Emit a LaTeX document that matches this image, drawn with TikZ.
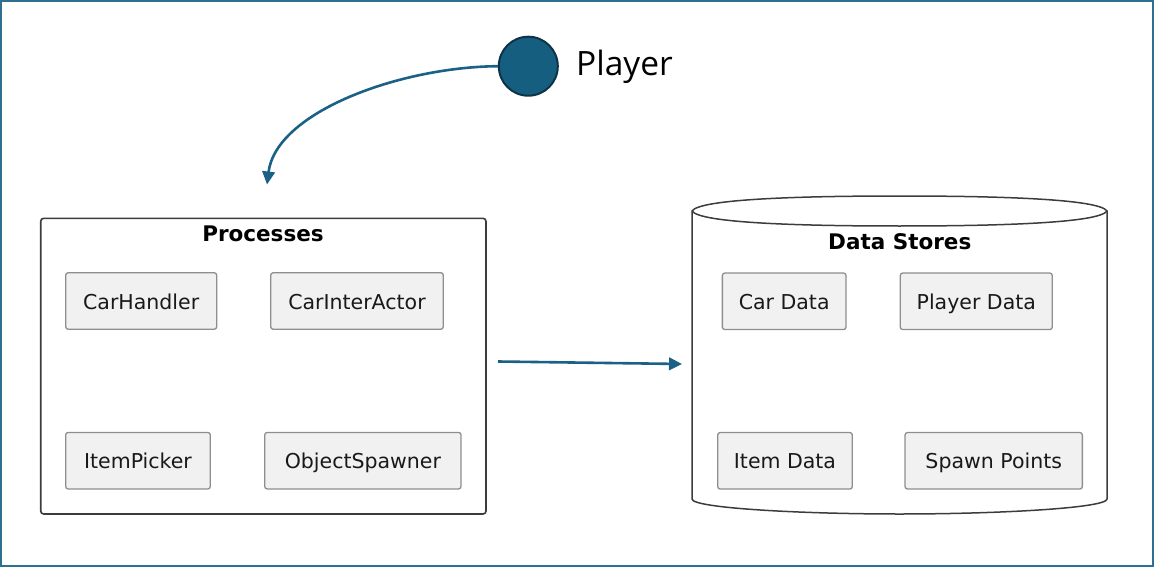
\documentclass[tikz,border=0pt]{standalone}
\usepackage{fontspec}
\setmainfont{DejaVu Sans}
\newfontfamily\playerfont{Open Sans}
\usetikzlibrary{arrows.meta}
\definecolor{framec}{HTML}{2F6F8F}
\definecolor{flow}{HTML}{1B6186}
\definecolor{actfill}{HTML}{165E80}
\definecolor{actline}{HTML}{0E3346}
\definecolor{boxfill}{HTML}{F1F1F1}
\definecolor{boxline}{HTML}{8E8E8E}
\definecolor{contline}{HTML}{3C3C3C}
\begin{document}
\begin{tikzpicture}[x=1pt,y=-1pt,
  comp/.style={draw=boxline, fill=boxfill, line width=1.3pt, rounded corners=2.5pt,
    minimum height=56.5pt, inner sep=0pt, text height=20pt, text depth=4pt,
    font=\fontsize{20.5}{24}\selectfont, text=black!90},
  container/.style={draw=contline, line width=1.6pt, rounded corners=3pt, inner sep=0pt},
  title/.style={font=\fontsize{21.5}{25}\selectfont\bfseries, inner sep=0pt, anchor=base},
  flowarrow/.style={draw=flow, line width=2.6pt, -{Triangle[length=13pt,width=12.5pt]}}]
\useasboundingbox (0,0) rectangle (1154,567);
\draw[framec, line width=2.2pt] (1.1,1.1) rectangle (1152.9,565.9);

% Player
\node[circle, fill=actfill, draw=actline, line width=2pt, minimum size=59pt, inner sep=0pt] (player) at (528.3,66.2) {};
\node[anchor=base west, inner sep=0pt, font=\playerfont\fontsize{33.5}{38}\selectfont] (playerlabel) at (576,76) {Player};

% Processes container
\node[container, minimum width=445.3pt, minimum height=295.7pt] (processes) at (263.35,366.15) {};
\node[title] (proctitle) at (263,241.7) {Processes};
\node[comp, minimum width=151pt] (carhandler) at (141.2,301) {CarHandler};
\node[comp, minimum width=172.6pt] (carinteractor) at (357,301) {CarInterActor};
\node[comp, minimum width=144.6pt] (itempicker) at (138,460.7) {ItemPicker};
\node[comp, minimum width=196.3pt] (objectspawner) at (362.9,460.7) {ObjectSpawner};

% Data stores cylinder
\draw[contline, line width=1.5pt] (692,211) .. controls (700,199) and (800,196) .. (899.5,196)
  .. controls (999,196) and (1099,199) .. (1107,211) -- (1107,499)
  .. controls (1107,508) and (999,514) .. (899.5,514)
  .. controls (800,514) and (692,508) .. (692,499) -- cycle;
\draw[contline, line width=1.5pt] (692,211) .. controls (700,223) and (800,226) .. (899.5,226)
  .. controls (999,226) and (1099,223) .. (1107,211);
\node[title] (dstitle) at (899.8,249.3) {Data Stores};
\node[comp, minimum width=123.7pt] (cardata) at (784.2,301.3) {Car Data};
\node[comp, minimum width=152pt] (playerdata) at (976.3,301.3) {Player Data};
\node[comp, minimum width=134.6pt] (itemdata) at (785,460.8) {Item Data};
\node[comp, minimum width=177.3pt] (spawnpoints) at (993.7,460.8) {Spawn Points};

% Connectors
\coordinate (proctop) at (267,184.5);
\coordinate (flowstart) at (498,361.5);
\coordinate (flowend) at (682,364);
\draw[flowarrow] (player.west) .. controls (400,67) and (276,112) .. (proctop);
\draw[flowarrow] (flowstart) -- (flowend);
\end{tikzpicture}
\end{document}
